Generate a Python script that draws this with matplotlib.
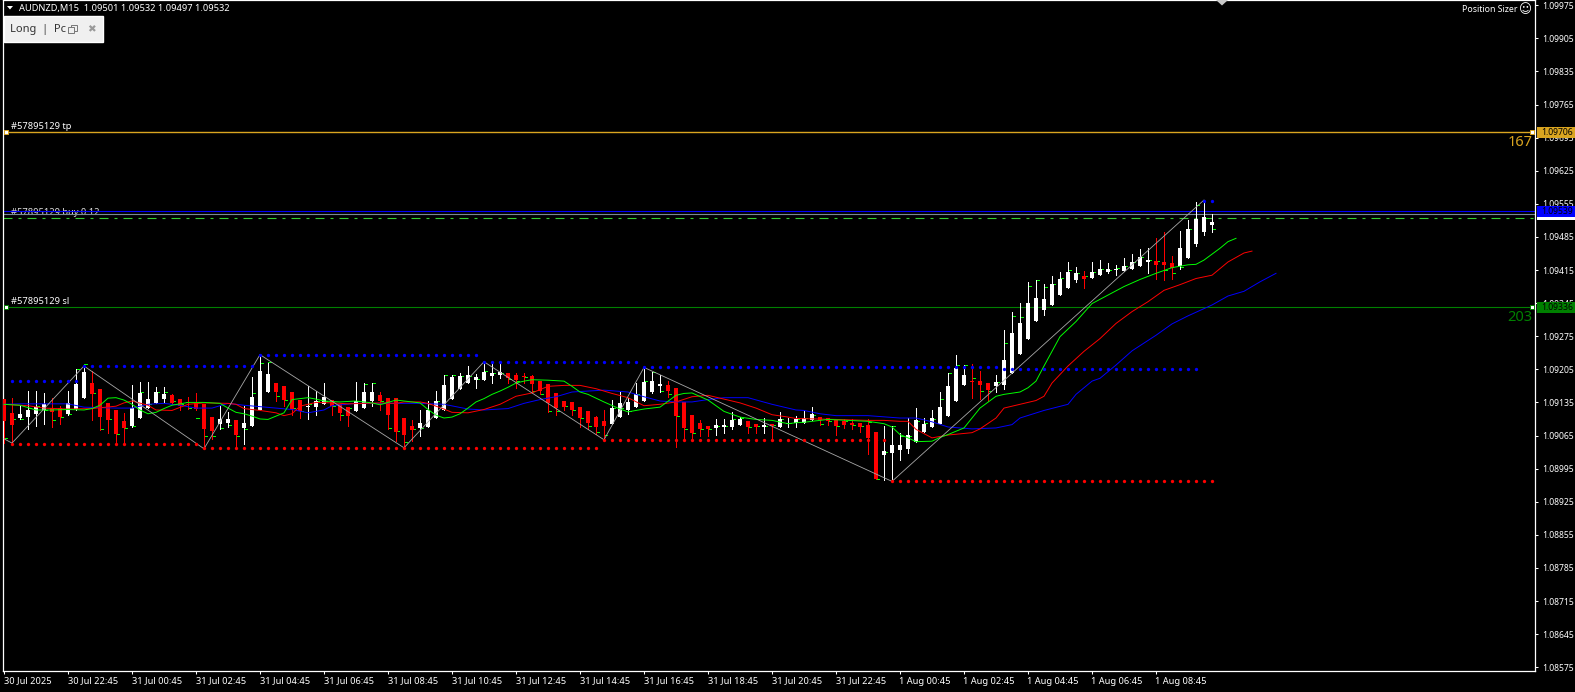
import numpy as np
import matplotlib
matplotlib.use("Agg")
import matplotlib.pyplot as plt
from matplotlib.patches import Rectangle, Polygon
from matplotlib.transforms import ScaledTranslation

plt.rcParams['font.family'] = ['Noto Sans', 'DejaVu Sans']

# all chart values are points above this price
base_price = 1.09

open_pts = [139,109,97,101,107,114,119,119,107,117,141,171,160,130,114,91,82,99,119,130,
            139,146,139,131,130,128,101,86,88,93,76,82,114,154,173,165,152,137,122,122,
            127,137,127,122,112,120,135,146,141,141,99,82,76,80,97,116,139,160,171,179,
            179,186,190,194,190,186,186,177,169,150,135,131,122,112,101,91,86,101,114,122,
            135,154,165,167,162,131,105,88,82,76,80,80,84,91,86,80,86,80,86,88,
            88,93,101,99,93,91,88,88,84,69,19,23,31,33,48,69,78,86,103,133,
            167,177,177,173,165,172,197,237,269,307,330,341,362,377,394,402,398,404,411,414,
            413,417,423,432,434,432,430,423,440,470,495,510]
high_pts = [139,140,125,155,156,151,140,124,156,202,208,197,160,130,114,109,167,174,174,163,
            163,148,139,143,150,128,101,123,110,93,123,184,229,215,173,165,152,137,165,155,
            171,137,127,122,175,171,173,153,141,141,99,93,114,133,156,190,188,194,209,192,
            217,215,215,194,194,194,188,177,169,150,135,131,122,112,103,116,137,152,141,173,
            205,196,190,177,162,131,105,93,82,95,95,110,101,91,86,97,86,110,97,103,
            112,122,101,99,93,95,95,88,95,69,82,82,67,97,120,99,116,152,194,232,
            211,213,198,173,188,288,326,345,389,394,385,402,411,432,421,413,432,436,430,425,
            440,449,459,461,482,495,444,497,521,559,563,533]
low_pts = [45,45,95,74,81,86,79,86,105,116,141,93,72,66,44,45,79,99,119,130,
           131,127,116,118,116,33,54,75,79,35,44,82,114,154,135,124,105,97,95,105,
           127,105,93,82,112,120,124,116,74,49,35,49,61,80,97,116,139,160,171,162,
           179,173,182,173,162,173,152,148,110,105,114,105,80,74,65,52,86,101,107,122,
           135,150,154,143,36,52,52,59,61,63,67,74,84,67,67,67,52,80,78,80,
           88,93,84,84,63,76,74,69,21,-32,-34,-36,10,25,48,69,78,86,103,133,
           167,141,139,135,154,163,197,237,269,307,320,341,362,377,389,377,398,404,408,404,
           413,417,423,408,396,394,396,417,440,466,489,495]
close_pts = [91,84,107,116,122,127,110,101,129,169,196,148,100,93,65,76,119,150,139,153,
             148,130,123,129,117,74,71,95,95,63,88,143,198,192,152,137,118,112,124,135,
             143,124,109,103,133,152,154,134,105,69,63,72,88,114,135,167,184,186,188,184,
             196,194,196,182,179,184,169,156,129,120,122,114,97,88,80,82,120,129,131,148,
             175,177,169,156,103,76,67,74,74,84,82,93,95,80,78,82,82,95,88,95,
             99,107,93,91,82,84,84,80,55,-30,29,40,40,63,93,86,97,122,165,203,
             188,175,167,158,175,224,282,303,345,356,353,385,396,411,408,396,411,417,418,418,
             423,432,442,436,425,425,419,461,502,523,527,516]
# short green side ticks, one per candle
tick_pts = [56,96,96,119,124,116,93,101,107,201,213,150,75,95,65,76,82,153,127,153,
            153,134,127,119,98,61,60,77,84,61,75,151,215,216,144,137,119,112,127,135,
            134,123,105,119,134,170,172,134,77,70,48,74,77,127,134,188,188,186,186,181,
            197,193,193,181,176,185,155,148,112,112,123,114,98,81,69,63,119,119,112,148,
            176,195,156,148,103,74,67,75,75,82,82,95,98,80,82,82,84,95,88,95,
            98,105,86,91,82,91,84,81,89,-32,26,82,61,60,91,88,95,138,194,211,
            211,183,155,155,174,260,317,316,382,394,380,385,399,415,408,402,411,417,416,420,
            423,432,443,436,434,415,408,422,501,552,526,501]

lips_bars = [0,2,4,6,8,10,11,12,13,14,15,16,17,18,19,20,21,23,25,27,28,29,30,31,32,33,35,36,38,39,40,42,44,46,47,49,
             52,53,54,55,56,57,58,59,60,61,62,63,64,65,66,68,70,71,72,73,75,77,78,80,82,84,85,86,88,90,92,94,96,98,99,
             100,103,108,110,111,112,113,114,116,117,118,120,121,122,124,125,127,128,129,130,132,134,136,138,140,142,144,146,148,149,150,152,153,154]
lips_pts = [127,125,115,115,116,115,118,125,140,141,136,127,115,107,110,118,125,131,131,129,119,110,107,102,96,95,109,137,141,138,134,132,134,130,126,136,
            130,116,104,98,100,107,119,132,139,148,155,163,172,176,179,178,176,165,153,148,132,117,111,117,121,146,150,151,136,112,100,95,93,86,88,
            89,95,91,86,79,63,56,48,49,57,63,77,98,119,144,148,153,162,176,212,274,306,344,362,380,395,408,420,426,427,436,461,475,482]

teeth_bars = [0,3,5,8,11,14,15,16,18,19,21,23,25,28,29,30,32,34,35,36,37,39,41,43,45,47,49,
              50,52,53,55,56,58,60,62,64,66,68,70,72,74,76,78,80,82,84,86,88,90,92,94,96,98,99,
              104,108,110,112,113,114,116,118,121,122,124,125,129,130,131,133,135,137,139,141,143,145,147,149,151,153,155,156]
teeth_pts = [127,124,119,117,118,123,130,134,125,115,114,127,130,129,127,118,114,109,103,107,123,131,130,128,129,130,129,
             132,132,129,117,110,109,116,127,144,151,165,167,167,160,150,141,124,127,132,143,146,138,130,119,105,100,97,
             95,93,93,91,91,74,56,62,67,75,98,119,135,144,172,208,239,270,302,327,348,372,384,397,404,432,451,455]

jaw_bars = [0,2,6,8,10,14,16,18,20,22,24,26,28,30,32,36,38,40,41,44,49,
            52,55,58,60,63,65,67,69,71,73,75,78,80,82,84,86,88,90,93,96,99,
            100,102,104,108,112,114,116,118,121,124,126,127,130,133,134,136,137,139,141,144,146,148,151,153,155,157,159]
jaw_pts = [127,128,128,128,121,119,119,127,129,125,119,119,129,125,122,116,109,115,124,129,129,
           129,127,117,115,118,129,137,143,153,155,157,153,143,134,132,132,137,141,141,127,115,
           114,107,103,103,98,98,90,79,75,77,84,98,114,127,148,176,186,214,244,277,301,318,341,360,370,390,408]

zigzag_bars = [0,1,10,25,32,50,60,75,80,111,150]
zigzag_pts = [54,45,208,33,232,35,217,52,205,-36,563]

# start bar, end bar, level
resist_levels = [(1,9,177),(10,31,208),(32,59,232),(60,79,217),(80,149,206),(150,151,560)]
support_levels = [(1,24,43),(25,74,35),(75,110,52),(111,151,-35)]

price_ticks = [1.09975,1.09905,1.09835,1.09765,1.09695,1.09625,1.09555,1.09485,1.09415,1.09345,1.09275,
               1.09205,1.09135,1.09065,1.08995,1.08925,1.08855,1.08785,1.08715,1.08645,1.08575]
time_ticks = list(range(0,145,8))
time_labels = ['30 Jul 2025','30 Jul 22:45','31 Jul 00:45','31 Jul 02:45','31 Jul 04:45','31 Jul 06:45',
               '31 Jul 08:45','31 Jul 10:45','31 Jul 12:45','31 Jul 14:45','31 Jul 16:45','31 Jul 18:45',
               '31 Jul 20:45','31 Jul 22:45','1 Aug 00:45','1 Aug 02:45','1 Aug 04:45','1 Aug 06:45','1 Aug 08:45']

tp_price = 1.09706
sl_price = 1.09336
ask_price = 1.09539
bid_price = 1.09534
entry_price = 1.09524

# readings left of the rally came out a little low against the axis
fix_early = 4

def to_price(pts, cut=None, where=None):
    pts = np.array(pts, dtype=float)
    if cut is not None:
        pts[np.array(where) < cut] += fix_early
    return base_price + pts*1e-5

W, H = 1575, 692
fig = plt.figure(figsize=(W/100, H/100), dpi=100, facecolor='black')
ax = fig.add_axes([3/W, (H-671)/H, 1532/W, 671/H], facecolor='black')
ax.set_xlim(-0.125, 191.375)
ax.set_ylim(1.08567, 1.09986)

def px(x, y):
    return x/W, 1-y/H

bars = np.arange(len(open_pts))
o = to_price(open_pts, 125, bars)
h = to_price(high_pts, 125, bars)
l = to_price(low_pts, 125, bars)
c = to_price(close_pts, 125, bars)
colors = np.where(c >= o, 'white', '#FF0000')

ax.hlines(to_price(tick_pts, 125, bars), bars, bars+0.38, colors='#00FF00', lw=0.72, antialiased=False, zorder=2.5)
ax.vlines(bars, l, h, colors=colors, lw=0.72, antialiased=False, zorder=3)
body = np.maximum(np.abs(c-o), 2.2e-5)
ax.bar(bars, body, 0.62, bottom=np.minimum(o, c), color=colors, lw=0, antialiased=False, zorder=3)

ax.plot(jaw_bars, to_price(jaw_pts, 137, jaw_bars), color='#0000FF', lw=0.7, zorder=5)
ax.plot(teeth_bars, to_price(teeth_pts, 137, teeth_bars), color='#FF0000', lw=0.7, zorder=5)
ax.plot(lips_bars, to_price(lips_pts, 130, lips_bars), color='#00FF00', lw=0.7, zorder=5)
ax.plot(zigzag_bars, to_price(zigzag_pts, 125, zigzag_bars), color='#A8A8A8', lw=0.6, zorder=6)

for start, end, lev in resist_levels:
    xs = np.arange(start, end+1)
    ax.plot(xs, to_price([lev]*len(xs), 125, xs), ls='none', marker='o', ms=2.4, mew=0, color='#0000FF', zorder=6)
for start, end, lev in support_levels:
    xs = np.arange(start, end+1)
    ax.plot(xs, to_price([lev]*len(xs)) + fix_early*1e-5, ls='none', marker='o', ms=2.4, mew=0, color='#FF0000', zorder=6)

small = 6.7
ax.text(0.9, tp_price+0.00012, '#57895129 tp', color='white', fontsize=small, va='center', zorder=1)
ax.text(0.9, 1.09536, '#57895129 buy 0.12', color='#E0E0E0', fontsize=small, va='center', zorder=1)
ax.text(0.9, sl_price+0.00012, '#57895129 sl', color='white', fontsize=small, va='center', zorder=1)

ax.axhline(tp_price, color='#DAA520', lw=1.0, zorder=2)
ax.axhline(sl_price, color='#008000', lw=0.8, zorder=2)
ax.axhline(ask_price, color='#0000FF', lw=0.8, zorder=2)
ax.axhline(bid_price, color='#778899', lw=0.8, zorder=2)
ax.axhline(entry_price, color='#32CD32', lw=0.8, dashes=(8.1, 5.4, 2.7, 5.4), zorder=2)

for price, col in [(tp_price, '#DAA520'), (sl_price, '#008000')]:
    ax.plot([0.25, 191], [price, price], ls='none', marker='s', ms=3.2, mfc='white', mec=col, mew=0.7, zorder=7)

ax.text(191.1, tp_price-0.00021, '167', color='#DAA520', fontsize=10.5, ha='right', va='center', zorder=7)
ax.text(191.1, sl_price-0.00022, '203', color='#008000', fontsize=10.5, ha='right', va='center', zorder=7)

for side in ax.spines.values():
    side.set_color('white')
    side.set_linewidth(0.9)

axis_size = 6.2
ax.yaxis.tick_right()
ax.set_yticks(price_ticks)
ax.set_yticklabels([f'{p:.5f}' for p in price_ticks])
ax.tick_params(axis='y', colors='white', length=2.5, width=0.75, pad=2.5, labelsize=axis_size)
ax.set_xticks(time_ticks)
ax.set_xticklabels(time_labels, ha='left')
ax.tick_params(axis='x', colors='white', length=2.5, width=0.75, pad=1.5, labelsize=small)
for lab in ax.get_xticklabels():
    if lab.get_text().startswith('1 Aug'):
        lab.set_transform(lab.get_transform() + ScaledTranslation(-1/100, 0, fig.dpi_scale_trans))

# price tags on the axis
tags = [(1.09532, 'white', 'black'), (tp_price, '#DAA520', 'black'), (ask_price, '#0000FF', 'black'), (sl_price, '#008000', 'black')]
for price, face, ink in tags:
    y_px = (1.09986-price)/(1.09986-1.08567)*671
    fig.add_artist(Rectangle(px(1537, y_px+5.5), 38/W, 11/H, transform=fig.transFigure, fc=face, ec='none', zorder=10))
    if face != 'white':
        fig.text(*px(1541, y_px), f'{price:.5f}', color=ink, fontsize=axis_size, va='center', zorder=11)

# header strip
fig.add_artist(Polygon([px(7, 6), px(13, 6), px(10, 9.5)], transform=fig.transFigure, fc='white', ec='none'))
fig.text(*px(19, 8), 'AUDNZD,M15  1.09501 1.09532 1.09497 1.09532', color='white', fontsize=small, va='center')
fig.text(*px(1517, 9.5), 'Position Sizer', color='white', fontsize=6.3, ha='right', va='center')
fig.text(*px(1525, 9.5), '\u263a', color='white', fontsize=9, ha='center', va='center', family='DejaVu Sans')
fig.add_artist(Polygon([px(1216, 0), px(1228, 0), px(1222, 5.5)], transform=fig.transFigure, fc='#C8C8C8', ec='none'))

# panel button
fig.add_artist(Rectangle(px(4, 42), 99/W, 26/H, transform=fig.transFigure, fc='#F0F0F0', ec='white', lw=1))
fig.text(*px(10, 29.5), 'Long  |  Pc', color='#333333', fontsize=8, va='center', zorder=11)
fig.add_artist(Rectangle(px(71, 31), 6/W, 6/H, transform=fig.transFigure, fc='#F0F0F0', ec='#777777', lw=0.7, zorder=11))
fig.add_artist(Rectangle(px(68, 33), 6/W, 6/H, transform=fig.transFigure, fc='#F0F0F0', ec='#777777', lw=0.7, zorder=11))
fig.text(*px(91, 29.5), '\u2716', color='#999999', fontsize=7.5, ha='center', va='center', family='DejaVu Sans', zorder=11)

fig.savefig('out.png', dpi=100, facecolor='black')
